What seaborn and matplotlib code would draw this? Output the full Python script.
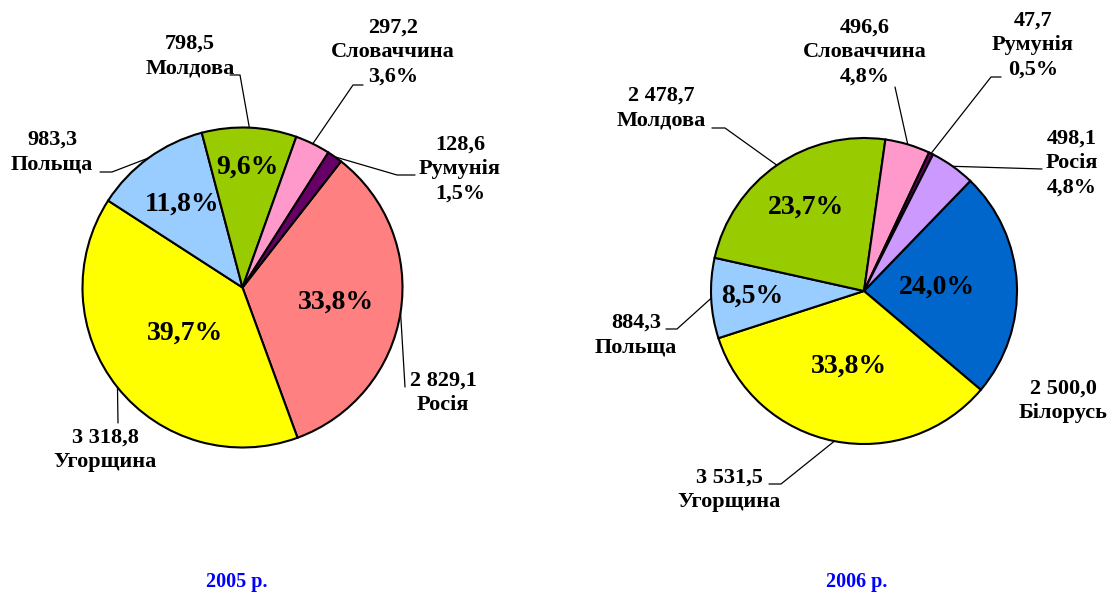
import numpy as np
import matplotlib
matplotlib.use("Agg")
import matplotlib.pyplot as plt
import seaborn as sns

# ================================
# DATA
# ================================
countries_2005 = ["Росія", "Угорщина", "Польща", "Молдова", "Словаччина", "Румунія"]
values_2005 = [2829.1, 3318.8, 983.3, 798.5, 297.2, 128.6]
value_labels_2005 = ["2 829,1", "3 318,8", "983,3", "798,5", "297,2", "128,6"]
pct_2005 = ["33,8%", "39,7%", "11,8%", "9,6%", "3,6%", "1,5%"]
colors_2005 = ["#FF8080", "#FFFF00", "#99CCFF", "#99CC00", "#FF99CC", "#660066"]

countries_2006 = ["Білорусь", "Угорщина", "Польща", "Молдова", "Словаччина", "Румунія", "Росія"]
values_2006 = [2500.0, 3531.5, 884.3, 2478.7, 496.6, 47.7, 498.1]
value_labels_2006 = ["2 500,0", "3 531,5", "884,3", "2 478,7", "496,6", "47,7", "498,1"]
pct_2006 = ["24,0%", "33,8%", "8,5%", "23,7%", "4,8%", "0,5%", "4,8%"]
colors_2006 = ["#0066CC", "#FFFF00", "#99CCFF", "#99CC00", "#FF99CC", "#660066", "#CC99FF"]

titles = ["2005 р.", "2006 р."]

# ================================
# LAYOUT (pixel positions in the 1115x595 canvas)
# ================================
# inner percent radius (None -> percent goes to outer label), outer label centre, leader path
layout_2005 = [
    (0.59, (443, 393), [(405, 387)]),
    (0.46, (105, 450), [(118, 423)]),
    (0.64, (52, 152), [(112, 172), (100, 172)]),
    (0.75, (190, 56), [(240, 75), (230, 75)]),
    (None, (393, 52), [(353, 85), (363, 85)]),
    (None, (460, 169), [(397, 175), (415, 175)]),
]
layout_2006 = [
    (0.48, (1063, 401), []),
    (0.50, (729, 490), [(781, 484), (769, 484)]),
    (0.73, (636, 335), [(677, 329), (666, 329)]),
    (0.67, (661, 108), [(725, 128), (712, 128)]),
    (None, (865, 52), [(895, 87)]),
    (None, (1033, 45), [(991, 77), (1001, 77)]),
    (None, (1072, 163), [(1042, 169)]),
]

sns.set_theme(style="white")
plt.rcParams["font.family"] = ["Liberation Serif", "DejaVu Serif"]
plt.rcParams["font.weight"] = "bold"
plt.rcParams["text.color"] = "black"

W, H = 1115, 595
fig = plt.figure(figsize=(W / 100, H / 100), dpi=100)
fig.patch.set_facecolor("white")

pies = [
    dict(values=values_2005, vlab=value_labels_2005, names=countries_2005, pct=pct_2005,
         colors=colors_2005, layout=layout_2005, start=52, cx=242.5, cy=287.5, r=160,
         x0=0, x1=W / 2, title_xy=(237, 582)),
    dict(values=values_2006, vlab=value_labels_2006, names=countries_2006, pct=pct_2006,
         colors=colors_2006, layout=layout_2006, start=46, cx=864, cy=291, r=153,
         x0=W / 2, x1=W, title_xy=(857, 582)),
]

for p, title in zip(pies, titles):
    ax = fig.add_axes([p["x0"] / W, 0, (p["x1"] - p["x0"]) / W, 1])
    cx, cy, r = p["cx"], p["cy"], p["r"]

    def to_data(pt):
        return ((pt[0] - cx) / r, (cy - pt[1]) / r)

    wedges, _ = ax.pie(p["values"], colors=p["colors"], startangle=p["start"],
                       counterclock=False,
                       wedgeprops=dict(edgecolor="black", linewidth=1.5))

    for w, vl, name, pc, (inner_r, txt_xy, path) in zip(
            wedges, p["vlab"], p["names"], p["pct"], p["layout"]):
        mid = np.deg2rad((w.theta1 + w.theta2) / 2)
        if inner_r is not None:
            ax.text(inner_r * np.cos(mid), inner_r * np.sin(mid), pc,
                    ha="center", va="center", fontsize=20, fontweight="bold",
                    color="black")
            label = vl + "\n" + name
        else:
            label = vl + "\n" + name + "\n" + pc
        tx, ty = to_data(txt_xy)
        ax.text(tx, ty, label, ha="center", va="center", fontsize=16,
                fontweight="bold", linespacing=1.3, color="black")
        if path:
            pts = [(np.cos(mid), np.sin(mid))] + [to_data(q) for q in path]
            xs, ys = zip(*pts)
            ax.plot(xs, ys, color="black", linewidth=0.9)

    tx, ty = to_data(p["title_xy"])
    ax.text(tx, ty, title, ha="center", va="center", fontsize=14.5,
            fontweight="bold", color="#0000FF")

    ax.set_xlim((p["x0"] - cx) / r, (p["x1"] - cx) / r)
    ax.set_ylim((cy - H) / r, cy / r)
    ax.set_aspect("auto")
    ax.axis("off")

plt.savefig("out.png", dpi=100)
